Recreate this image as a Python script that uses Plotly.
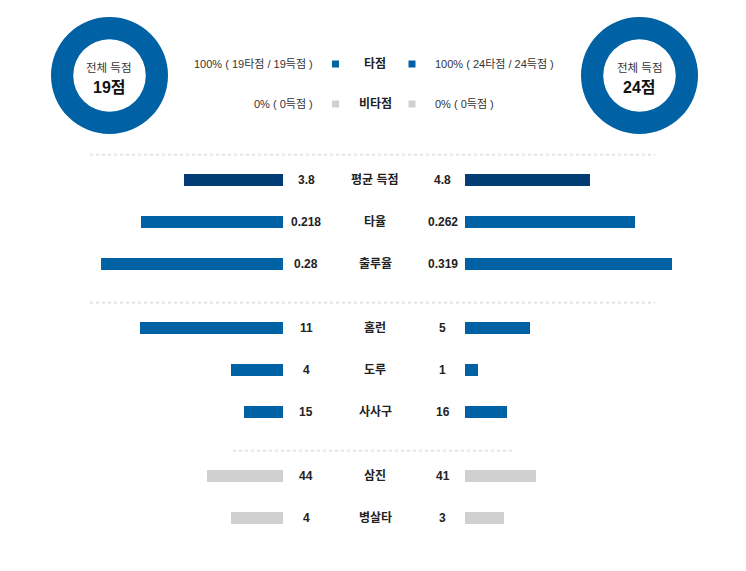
import plotly.graph_objects as go

# ---------------- data ----------------
stat_names = ["평균 득점", "타율", "출루율", "홈런", "도루", "사사구", "삼진", "병살타"]
left_values = [3.8, 0.218, 0.28, 11, 4, 15, 44, 4]
right_values = [4.8, 0.262, 0.319, 5, 1, 16, 41, 3]
left_labels = ["3.8", "0.218", "0.28", "11", "4", "15", "44", "4"]
right_labels = ["4.8", "0.262", "0.319", "5", "1", "16", "41", "3"]
scale_max = [10, 0.4, 0.4, 20, 20, 100, 150, 20]
stat_group = [0, 0, 0, 1, 1, 1, 2, 2]

total_left = 19
total_right = 24
rbi_left = 19
rbi_right = 24
nonrbi_left = 0
nonrbi_right = 0
legend_names = ["타점", "비타점"]

# ---------------- style ----------------
W, H = 746, 571
NAVY = "#013d74"
BLUE = "#0061a5"
GRAY = "#d0d0d0"
TXT = "#222222"
FONT = "Liberation Sans, Arial, Noto Sans CJK KR, sans-serif"

row_colors = [NAVY, BLUE, BLUE, BLUE, BLUE, BLUE, GRAY, GRAY]

ROW_PX = 42.0
GROUP_GAP = 22.0 / ROW_PX
FIRST_ROW_PX = 180.0

def px2py(p):
    return 1 - p / H

def px2px(p):
    return p / W

pos = [i + GROUP_GAP * g for i, g in enumerate(stat_group)]
left_norm = [v / m for v, m in zip(left_values, scale_max)]
right_norm = [v / m for v, m in zip(right_values, scale_max)]

fig = go.Figure()

fig.add_trace(go.Bar(
    x=left_norm, y=pos, orientation="h", xaxis="x", yaxis="y",
    marker=dict(color=row_colors, line=dict(width=0)),
    width=12 / ROW_PX, hoverinfo="skip", showlegend=False,
))
fig.add_trace(go.Bar(
    x=right_norm, y=pos, orientation="h", xaxis="x2", yaxis="y",
    marker=dict(color=row_colors, line=dict(width=0)),
    width=12 / ROW_PX, hoverinfo="skip", showlegend=False,
))

# donuts
R_OUT = 58.5
for cx, tot_rbi, tot_non in [(109.5, rbi_left, nonrbi_left), (639.5, rbi_right, nonrbi_right)]:
    cy = 75.5
    fig.add_trace(go.Pie(
        values=[tot_rbi, tot_non], labels=legend_names, hole=0.62, sort=False,
        direction="clockwise",
        marker=dict(colors=[BLUE, GRAY], line=dict(width=0)),
        textinfo="none", hoverinfo="skip", showlegend=False,
        domain=dict(x=[px2px(cx - R_OUT), px2px(cx + R_OUT)],
                    y=[px2py(cy + R_OUT), px2py(cy - R_OUT)]),
    ))

annotations = []
def ann(text, xpx, ypx=None, y=None, size=12, bold=False, xanchor="center", color=TXT):
    t = f"<b>{text}</b>" if bold else text
    d = dict(text=t, x=px2px(xpx), xref="paper", xanchor=xanchor, yanchor="middle",
             showarrow=False, font=dict(size=size, color=color, family=FONT))
    if y is not None:
        d.update(y=y, yref="y")
    else:
        d.update(y=px2py(ypx), yref="paper")
    annotations.append(d)

for p, n, ll, rl in zip(pos, stat_names, left_labels, right_labels):
    ann(ll, 306, y=p, bold=True)
    ann(n, 375, y=p, bold=True)
    ann(rl, 443, y=p, bold=True)

# donut centre texts
for cx, tot in [(109.5, total_left), (639.5, total_right)]:
    ann("전체 득점", cx, ypx=68, size=11.5, color="#333333")
    ann(f"{tot}점", cx, ypx=87.5, size=16, bold=True, color="#111111")

# legend rows
def pct(a, b):
    return 0 if b == 0 else round(100 * a / b)

ann(f"{pct(rbi_left, total_left)}% ( {rbi_left}타점 / {total_left}득점 )", 315, ypx=64, size=11, xanchor="right", color="#333333")
ann(f"{pct(rbi_right, total_right)}% ( {rbi_right}타점 / {total_right}득점 )", 433, ypx=64, size=11, xanchor="left", color="#333333")
ann(legend_names[0], 375, ypx=64, bold=True)
ann(f"{pct(nonrbi_left, total_left)}% ( {nonrbi_left}득점 )", 315, ypx=104, size=11, xanchor="right", color="#333333")
ann(f"{pct(nonrbi_right, total_right)}% ( {nonrbi_right}득점 )", 433, ypx=104, size=11, xanchor="left", color="#333333")
ann(legend_names[1], 375, ypx=104, bold=True)

shapes = []
for ycen, col in [(64, BLUE), (104, GRAY)]:
    for xc in (335.5, 412):
        shapes.append(dict(type="rect", xref="paper", yref="paper",
                           x0=px2px(xc - 3.5), x1=px2px(xc + 3.5),
                           y0=px2py(ycen + 3.5), y1=px2py(ycen - 3.5),
                           fillcolor=col, line=dict(width=0)))

# dotted separators before each group
group_first = {}
for p, g in zip(pos, stat_group):
    group_first.setdefault(g, p)
sep_x = {0: (90, 655), 1: (90, 655), 2: (233, 513)}
for g, p in group_first.items():
    x0, x1 = sep_x[g]
    shapes.append(dict(type="line", xref="paper", yref="y",
                       x0=px2px(x0), x1=px2px(x1), y0=p - 0.6, y1=p - 0.6,
                       line=dict(color="#e3e3e3", width=2, dash="3px,3px")))

y_top = -FIRST_ROW_PX / ROW_PX
y_bot = (H - FIRST_ROW_PX) / ROW_PX

fig.update_layout(
    width=W, height=H, margin=dict(l=0, r=0, t=0, b=0),
    paper_bgcolor="white", plot_bgcolor="rgba(0,0,0,0)",
    font=dict(family=FONT, color=TXT),
    bargap=0, barmode="overlay",
    xaxis=dict(domain=[px2px(23), px2px(283)], range=[1, 0], visible=False, fixedrange=True),
    xaxis2=dict(domain=[px2px(465), px2px(725)], range=[0, 1], visible=False, fixedrange=True, anchor="y"),
    yaxis=dict(domain=[0, 1], range=[y_bot, y_top], visible=False, fixedrange=True),
    annotations=annotations, shapes=shapes, showlegend=False,
)

fig.write_html("out.html", config={"displayModeBar": False})
